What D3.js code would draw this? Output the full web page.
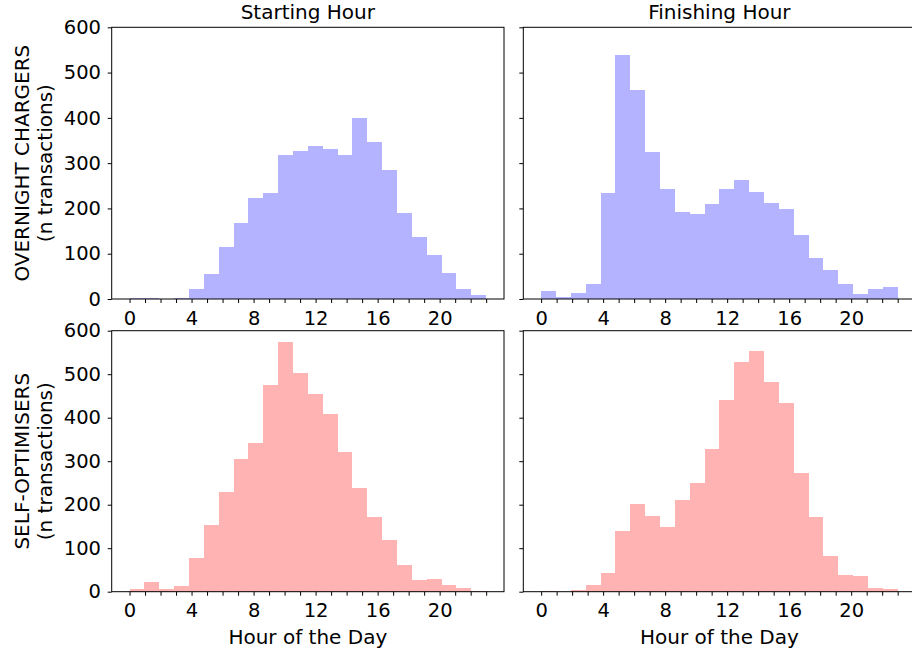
<!DOCTYPE html>
<html>
<head>
<meta charset="utf-8">
<script src="https://cdn.jsdelivr.net/npm/d3@7/dist/d3.min.js"></script>
<style>
  html, body { margin: 0; padding: 0; background: #fff; }
  svg { display: block; font-family: "DejaVu Sans", sans-serif; }
  .tick text { font-size: 19.5px; fill: #000; }
  .tick line { stroke: #000; stroke-width: 1; }
</style>
</head>
<body>
<svg id="chart" width="912" height="651"></svg>
<script>
// Hourly transaction counts, 24 equal bins spanning hour 0 to 23
const startOvernight = [3, 3, 0, 2, 23, 55, 115, 167, 222, 234, 317, 327, 337, 331, 317, 399, 346, 284, 191, 137, 98, 57, 23, 9];
const finishOvernight = [18, 4, 14, 33, 234, 538, 461, 325, 244, 193, 188, 210, 242, 263, 236, 212, 199, 142, 90, 65, 33, 12, 23, 26];
const startSelfOpt = [6, 22, 6, 14, 77, 153, 229, 306, 341, 476, 575, 503, 454, 408, 321, 238, 171, 118, 61, 27, 29, 16, 8, 2];
const finishSelfOpt = [2, 0, 4, 16, 44, 140, 202, 173, 148, 210, 251, 329, 441, 528, 553, 481, 434, 274, 172, 81, 38, 36, 8, 6];

const colTitles = ["Starting Hour", "Finishing Hour"];
const rowLabels = [["OVERNIGHT CHARGERS", "(n transactions)"], ["SELF-OPTIMISERS", "(n transactions)"]];
const xTitle = "Hour of the Day";
const xTickValues = d3.range(0, 24);
const xLabelEvery = 4;
const yTickValues = [0, 100, 200, 300, 400, 500, 600];
const hourRange = [0, 23];
const binCount = 24;

const rowColors = ["#b3b3ff", "#ffb3b3"];
const rowSeries = [[startOvernight, finishOvernight], [startSelfOpt, finishSelfOpt]];

// panel frames in pixels
const colX = [[111.7, 504], [523.3, 915.5]];
const rowY = [[27.3, 299], [330.7, 591.7]];

const svg = d3.select("#chart");
const binW = (hourRange[1] - hourRange[0]) / binCount;

rowSeries.forEach((pair, r) => {
  pair.forEach((values, c) => {
    const [x0, x1] = colX[c];
    const [y0, y1] = rowY[r];
    const x = d3.scaleLinear().domain([-1.15, 24.15]).range([x0, x1]);
    const y = d3.scaleLinear().domain([0, 600]).range([y1, y0]);
    const g = svg.append("g");

    const bins = values.map((v, i) => ({ lo: hourRange[0] + i * binW, hi: hourRange[0] + (i + 1) * binW, v }));
    g.selectAll("rect.bar").data(bins).join("rect")
      .attr("class", "bar")
      .attr("x", d => x(d.lo))
      .attr("width", d => x(d.hi) - x(d.lo))
      .attr("y", d => y(d.v))
      .attr("height", d => y(0) - y(d.v))
      .attr("fill", rowColors[r])
      .attr("shape-rendering", "crispEdges");

    // x axis
    const xa = d3.axisBottom(x).tickValues(xTickValues)
      .tickFormat(d => d % xLabelEvery === 0 ? d : "")
      .tickSize(4).tickSizeOuter(0).tickPadding(7.8);
    const gx = g.append("g").attr("transform", `translate(0,${y1})`).call(xa);
    gx.select(".domain").remove();
    gx.selectAll("text").attr("font-family", "DejaVu Sans");

    // y axis
    const ya = d3.axisLeft(y).tickValues(yTickValues)
      .tickFormat(c === 0 ? d3.format("d") : () => "")
      .tickSize(4).tickSizeOuter(0).tickPadding(6.7);
    const gy = g.append("g").attr("transform", `translate(${x0},0)`).call(ya);
    gy.select(".domain").remove();
    gy.selectAll("text").attr("font-family", "DejaVu Sans");

    // frame
    g.append("rect")
      .attr("x", x0).attr("y", y0)
      .attr("width", x1 - x0).attr("height", y1 - y0)
      .attr("fill", "none").attr("stroke", "#000").attr("stroke-width", 1);

    if (r === 0) {
      svg.append("text")
        .attr("x", (x0 + x1) / 2).attr("y", 19.3)
        .attr("text-anchor", "middle")
        .attr("font-size", "20px")
        .text(colTitles[c]);
    }
    if (r === 1) {
      svg.append("text")
        .attr("x", (x0 + x1) / 2).attr("y", 644)
        .attr("text-anchor", "middle")
        .attr("font-size", "20px")
        .text(xTitle);
    }
    if (c === 0) {
      const cy = (y0 + y1) / 2;
      rowLabels[r].forEach((line, k) => {
        svg.append("text")
          .attr("transform", `translate(${28.5 + k * 23.6},${cy}) rotate(-90)`)
          .attr("text-anchor", "middle")
          .attr("font-size", "20px")
          .text(line);
      });
    }
  });
});
</script>
</body>
</html>
